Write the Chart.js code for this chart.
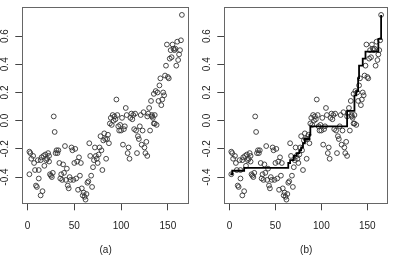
<!DOCTYPE html>
<html>
<head>
<meta charset="utf-8">
<script src="https://cdn.jsdelivr.net/npm/chart.js@4"></script>
<style>
  body { margin: 0; background: #fff; }
  #wrap { position: relative; width: 393px; height: 256px; }
  canvas { position: absolute; top: 0; }
  #left { left: 0; }
  #right { left: 202px; }
</style>
</head>
<body>
<div id="wrap">
  <canvas id="left" width="196" height="256"></canvas>
  <canvas id="right" width="191" height="256"></canvas>
</div>
<script>
// observations (index, value)
const xs = [2, 3, 4, 6, 2, 8, 9, 10, 11, 12, 12, 14, 14, 15, 16, 17, 18, 19, 20, 21,
  22, 23, 24, 25, 26, 27, 28, 29, 30, 31, 32, 33, 34, 35, 36, 37, 38, 39, 40, 41,
  42, 43, 44, 45, 46, 47, 48, 49, 50, 51, 52, 53, 54, 55, 56, 57, 58, 59, 60, 61,
  62, 63, 64, 65, 66, 67, 68, 69, 70, 71, 72, 73, 74, 75, 76, 77, 78, 79, 80, 81,
  82, 83, 84, 85, 86, 87, 88, 89, 90, 91, 92, 93, 94, 95, 96, 97, 98, 99, 100, 101,
  102, 103, 104, 105, 106, 107, 108, 109, 110, 111, 112, 113, 114, 115, 116, 117, 118, 119, 120, 121,
  122, 123, 124, 125, 126, 127, 128, 129, 130, 131, 132, 133, 134, 135, 136, 137, 138, 139, 140, 141,
  142, 143, 144, 145, 146, 147, 148, 149, 150, 151, 152, 153, 154, 155, 156, 157, 158, 159, 160, 161,
  162, 163, 164, 165, 128, 133, 135, 136, 7, 23];
const ys = [-0.22, -0.23, -0.27, -0.25, -0.38, -0.35, -0.46, -0.47, -0.28, -0.35, -0.41, -0.53, -0.28, -0.26, -0.50, -0.25, -0.32, -0.24, -0.28, -0.27,
  -0.23, -0.29, -0.38, -0.39, -0.40, -0.37, 0.03, -0.08, -0.23, -0.21, -0.23, -0.21, -0.30, -0.41, -0.38, -0.42, -0.31, -0.37, -0.18, -0.42,
  -0.34, -0.46, -0.48, -0.40, -0.42, -0.19, -0.21, -0.42, -0.30, -0.20, -0.41, -0.29, -0.49, -0.26, -0.39, -0.30, -0.48, -0.53, -0.51, -0.54,
  -0.56, -0.52, -0.44, -0.43, -0.16, -0.25, -0.39, -0.47, -0.33, -0.28, -0.19, -0.25, -0.27, -0.30, -0.24, -0.19, -0.11, -0.21, -0.35, -0.14,
  -0.09, -0.13, -0.27, -0.13, -0.10, -0.16, -0.02, 0.02, -0.03, 0.04, 0.00, 0.03, 0.01, 0.15, 0.04, -0.04, -0.07, -0.03, -0.07, 0.02,
  -0.17, -0.06, -0.04, 0.09, 0.04, -0.23, -0.19, -0.27, 0.02, 0.05, 0.01, 0.04, -0.06, 0.05, -0.07, -0.23, -0.11, -0.13, -0.04, 0.04,
  -0.17, -0.07, 0.06, -0.19, -0.23, -0.15, -0.25, 0.05, 0.09, -0.07, 0.14, 0.04, 0.02, 0.19, -0.02, 0.21, -0.03, 0.20, 0.14, 0.25,
  0.30, 0.11, 0.15, 0.20, 0.18, 0.32, 0.39, 0.54, 0.31, 0.30, 0.44, 0.50, 0.45, 0.54, 0.51, 0.50, 0.51, 0.39, 0.56, 0.43,
  0.47, 0.50, 0.57, 0.75, 0.03, 0.03, -0.02, 0.04, -0.30, -0.25];

// fitted step function for panel (b)
const stepX = [1, 3, 16, 64, 66, 70, 73, 76, 78, 80, 82, 87, 88, 128, 136, 138, 140, 141, 145, 148, 162, 165];
const stepY = [-0.38, -0.355, -0.335, -0.30, -0.28, -0.25, -0.23, -0.21, -0.19, -0.16, -0.13, -0.10, -0.04, 0.07, 0.18, 0.21, 0.30, 0.39, 0.44, 0.49, 0.58, 0.75];

const xTicks = [0, 50, 100, 150];
const yTicks = [-0.4, -0.2, 0.0, 0.2, 0.4, 0.6];
const captions = ['(a)', '(b)'];

Chart.defaults.font.family = "'Liberation Sans', Arial, sans-serif";
Chart.defaults.font.size = 10;
Chart.defaults.color = '#222';

const points = xs.map((x, i) => ({x: x, y: ys[i]}));
const steps = stepX.map((x, i) => ({x: x, y: stepY[i]}));

const boxPlugin = {
  id: 'box',
  afterDatasetsDraw(chart) {
    const a = chart.chartArea;
    const ctx = chart.ctx;
    ctx.save();
    ctx.strokeStyle = '#666';
    ctx.lineWidth = 1;
    ctx.strokeRect(Math.round(a.left) + 0.5, Math.round(a.top) + 0.5,
      Math.round(a.right - a.left) - 1, Math.round(a.bottom - a.top) - 1);
    ctx.restore();
  }
};

function makeChart(id, caption, withLine, padRight) {
  const datasets = [];
  if (withLine) {
    datasets.push({
      type: 'line',
      data: steps,
      stepped: true,
      borderColor: '#000',
      borderWidth: 1.8,
      pointRadius: 0,
      fill: false
    });
  }
  datasets.push({
    type: 'scatter',
    data: points,
    pointStyle: 'circle',
    pointRadius: 2.4,
    borderWidth: 0.9,
    borderColor: '#333',
    backgroundColor: 'rgba(0,0,0,0)'
  });

  return new Chart(document.getElementById(id), {
    type: 'scatter',
    data: {datasets: datasets},
    plugins: [boxPlugin],
    options: {
      responsive: false,
      animation: false,
      devicePixelRatio: 1,
      layout: {padding: {left: 0, right: padRight, top: 4.3, bottom: 0}},
      plugins: {legend: {display: false}, tooltip: {enabled: false}},
      scales: {
        x: {
          type: 'linear',
          min: -5.6,
          max: 172.6,
          afterBuildTicks: s => { s.ticks = xTicks.map(v => ({value: v})); },
          afterFit: s => { s.height = 51.7; },
          grid: {drawOnChartArea: false, tickLength: 6, color: '#444'},
          border: {display: false},
          ticks: {padding: 10, maxRotation: 0},
          title: {display: true, text: caption, padding: {top: 0, bottom: 0}, font: {size: 10}}
        },
        y: {
          type: 'linear',
          min: -0.593,
          max: 0.806,
          afterBuildTicks: s => { s.ticks = yTicks.map(v => ({value: v})); },
          afterFit: s => { s.width = 22.3; },
          grid: {drawOnChartArea: false, tickLength: 7, color: '#444'},
          border: {display: false},
          ticks: {
            padding: 1,
            minRotation: 90,
            maxRotation: 90,
            crossAlign: 'center',
            callback: v => v.toFixed(1)
          }
        }
      }
    }
  });
}

makeChart('left', captions[0], false, 7);
makeChart('right', captions[1], true, 1.3);
</script>
</body>
</html>
